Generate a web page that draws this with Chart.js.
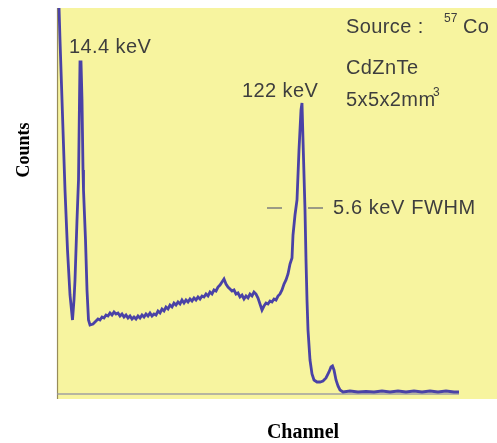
<!DOCTYPE html>
<html>
<head>
<meta charset="utf-8">
<script src="https://cdn.jsdelivr.net/npm/chart.js@4/dist/chart.umd.min.js"></script>
<style>
  html, body { margin: 0; padding: 0; background: #ffffff; }
  #wrap { width: 497px; height: 443px; position: relative; }
</style>
</head>
<body>
<div id="wrap"><canvas id="c" width="497" height="443"></canvas></div>
<script>
// ---- data ----
const channels = [
  3, 6, 11, 16, 21, 26, 31, 34, 36, 40, 43, 45, 46, 48, 50, 52, 53, 57, 60, 63, 66, 72, 80,
  82, 86, 90, 94, 98, 102, 106, 110, 114, 118, 122, 126, 130, 134, 138, 142, 146, 150, 154, 158,
  162, 166, 170, 174, 178, 182, 186, 190, 194, 198, 202, 206, 210, 214, 218, 222, 226, 230, 234,
  238, 242, 246, 250, 254, 258, 262, 266, 270, 274, 278, 282, 286, 290, 294, 298, 302, 306, 310,
  314, 318, 322, 326, 330, 334, 338, 342, 346, 350, 354, 358, 362, 366, 370, 374, 378, 382, 386,
  390, 394, 398, 402, 406, 410, 414, 418, 422, 426, 430, 434, 438, 442, 446, 450, 454, 458, 462,
  466, 470, 472, 476, 480, 484, 488, 490, 492, 494, 496, 498, 500, 502, 506, 510, 514, 520, 526,
  532, 538, 544, 548, 551, 554, 558, 562, 566, 572, 586, 602, 618, 634, 650, 666, 682, 698, 714,
  730, 746, 762, 778, 794, 804
];
const counts = [
  4040, 3540, 2790, 2040, 1440, 990, 740, 940, 1140, 1740, 2140, 2940, 3320, 3320, 2940, 2240, 2040, 1540, 1040, 740, 690, 700, 740,
  750, 740, 770, 760, 790, 780, 810, 790, 820, 800, 810, 780, 800, 770, 790, 760, 780, 750, 770,
  750, 780, 760, 790, 770, 800, 780, 810, 780, 800, 790, 830, 810, 850, 830, 870, 850, 890, 870,
  910, 890, 920, 900, 940, 910, 940, 920, 950, 930, 960, 940, 970, 950, 980, 970, 1000, 980, 1020,
  1000, 1040, 1030, 1070, 1090, 1120, 1150, 1100, 1070, 1050, 1030, 1040, 1000, 1010, 970, 990, 950, 980, 960, 1000,
  980, 1020, 1000, 960, 900, 840, 880, 910, 900, 930, 920, 950, 940, 980, 1000, 1040, 1100, 1140, 1200,
  1300, 1360, 1590, 1790, 1940, 2440, 2840, 2910, 2540, 2190, 1840, 1340, 940, 640, 340, 200, 140, 120, 120,
  130, 160, 220, 270, 280, 240, 140, 80, 40, 20, 30, 20, 25, 20, 30, 20, 30, 20, 30,
  20, 30, 20, 30, 20, 20
];
const xRange = [0, 880];
const yRange = [0, 3860];
const peakLabels = [
  { text: "14.4 keV", ch: 46 },
  { text: "122 keV", ch: 490 }
];
const infoLines = ["Source : ", "CdZnTe", "5x5x2mm"];
const xTitle = "Channel";
const yTitle = "Counts";
const fwhmText = "5.6 keV FWHM";

const points = channels.map((c, i) => ({ x: c, y: counts[i] }));

const decor = {
  id: 'decor',
  beforeDraw(chart) {
    const { ctx, chartArea: a } = chart;
    ctx.save();
    ctx.fillStyle = '#f7f49f';
    ctx.fillRect(a.left, a.top, a.right - a.left, a.bottom - a.top + 5);
    // left axis line
    ctx.strokeStyle = 'rgba(110,95,60,0.7)';
    ctx.lineWidth = 1.2;
    ctx.beginPath();
    ctx.moveTo(a.left + 0.5, a.top);
    ctx.lineTo(a.left + 0.5, a.bottom + 5);
    ctx.stroke();
    // bottom axis line
    const xs = chart.scales.x;
    ctx.strokeStyle = 'rgba(150,150,160,0.9)';
    ctx.lineWidth = 1.5;
    ctx.beginPath();
    ctx.moveTo(a.left, a.bottom);
    ctx.lineTo(xs.getPixelForValue(channels[channels.length - 1]), a.bottom);
    ctx.stroke();
    ctx.restore();
  },
  afterDraw(chart) {
    const { ctx } = chart;
    ctx.save();
    ctx.fillStyle = '#3e3e3e';
    ctx.font = '20px "Liberation Sans", Arial, sans-serif';
    ctx.letterSpacing = '0.4px';
    ctx.textBaseline = 'middle';
    ctx.textAlign = 'left';
    // peak labels
    ctx.fillText(peakLabels[0].text, 69, 47);
    ctx.fillText(peakLabels[1].text, 242, 91);
    // info block
    ctx.fillText(infoLines[0], 346, 27);
    ctx.fillText("Co", 463, 27);
    ctx.fillText(infoLines[1], 346, 68);
    ctx.fillText(infoLines[2], 346, 100);
    ctx.font = '12px "Liberation Sans", Arial, sans-serif';
    ctx.letterSpacing = '0px';
    ctx.fillText("57", 444, 19);
    ctx.fillText("3", 433, 93);
    // FWHM marker
    ctx.strokeStyle = '#9b9b85';
    ctx.lineWidth = 2;
    ctx.beginPath();
    ctx.moveTo(267, 208); ctx.lineTo(282, 208);
    ctx.moveTo(308, 208); ctx.lineTo(323, 208);
    ctx.stroke();
    ctx.font = '20px "Liberation Sans", Arial, sans-serif';
    ctx.letterSpacing = '0.6px';
    ctx.fillText(fwhmText, 333, 208);
    // axis titles
    ctx.letterSpacing = '0px';
    ctx.fillStyle = '#000';
    ctx.font = 'bold 20px "Liberation Serif", "Times New Roman", serif';
    ctx.textAlign = 'center';
    ctx.fillText(xTitle, 303, 433);
    ctx.translate(24, 150);
    ctx.rotate(-Math.PI / 2);
    ctx.font = 'bold 18px "Liberation Serif", "Times New Roman", serif';
    ctx.fillText(yTitle, 0, 0);
    ctx.restore();
  }
};

new Chart(document.getElementById('c'), {
  type: 'line',
  data: {
    datasets: [{
      data: points,
      borderColor: '#4a42a6',
      borderWidth: 2.8,
      pointRadius: 0,
      tension: 0,
      fill: false
    }]
  },
  options: {
    responsive: false,
    animation: false,
    devicePixelRatio: 1,
    layout: { padding: { left: 57, top: 8, right: 0, bottom: 49 } },
    plugins: { legend: { display: false }, tooltip: { enabled: false } },
    scales: {
      x: { type: 'linear', min: xRange[0], max: xRange[1], display: false },
      y: { type: 'linear', min: yRange[0], max: yRange[1], display: false }
    }
  },
  plugins: [decor]
});
</script>
</body>
</html>
